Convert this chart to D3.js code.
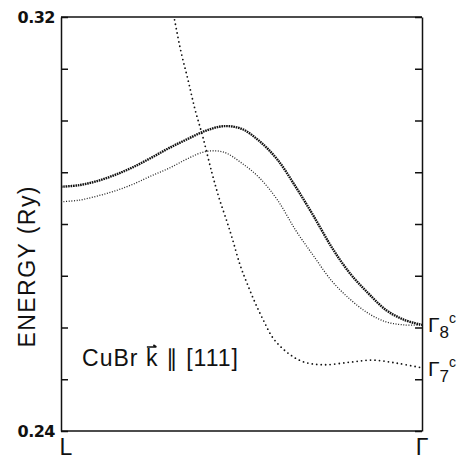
<!DOCTYPE html>
<html>
<head>
<meta charset="utf-8">
<script src="https://cdn.jsdelivr.net/npm/d3@7"></script>
<style>
  body { margin: 0; background: #fff; }
  svg { display: block; }
  text { fill: #111; font-family: "Liberation Sans", Arial, sans-serif; }
</style>
</head>
<body>
<div id="chart"></div>
<script>
// wave-vector grid from L (0) to Gamma (1) for the two upper bands
const kGrid = [0, 0.05, 0.1, 0.15, 0.2, 0.25, 0.3, 0.35, 0.4, 0.45, 0.5,
               0.55, 0.6, 0.65, 0.7, 0.75, 0.8, 0.85, 0.9, 0.95, 1.0];
// Gamma8 band, heavy dots
const bandHeavy = [0.2872, 0.2875, 0.2883, 0.2895, 0.2910, 0.2928, 0.2947, 0.2964, 0.2980, 0.2989, 0.2984,
                   0.2960, 0.2924, 0.2872, 0.2815, 0.2755, 0.2705, 0.2667, 0.2634, 0.2615, 0.2605];
// Gamma8 band, light dots
const bandLight = [0.2843, 0.2846, 0.2854, 0.2864, 0.2877, 0.2893, 0.2908, 0.2926, 0.2940, 0.2939, 0.2918,
                   0.2889, 0.2846, 0.2788, 0.2738, 0.2690, 0.2655, 0.2628, 0.2611, 0.2605, 0.2605];
// Gamma7 band, sparse dots (starts above the frame)
const kSteep = [0.29, 0.313, 0.332, 0.352, 0.371, 0.393, 0.418, 0.438, 0.460, 0.474, 0.496,
                0.515, 0.537, 0.560, 0.587, 0.626, 0.670, 0.726, 0.801, 0.864, 0.931, 1.0];
const eSteep = [0.3280, 0.3200, 0.3134, 0.3078, 0.3022, 0.2968, 0.2899, 0.2850, 0.2804, 0.2773, 0.2721,
                0.2686, 0.2649, 0.2615, 0.2580, 0.2552, 0.2534, 0.2528, 0.2533, 0.2537, 0.2531, 0.2522];
const yTicks = [0.24, 0.25, 0.26, 0.27, 0.28, 0.29, 0.30, 0.31, 0.32];
const xLabels = ["L", "\u0393"];

const W = 458, H = 459;
const margin = { top: 17, right: 36, bottom: 28, left: 61 };
const width = W - margin.left - margin.right,
      height = H - margin.top - margin.bottom;

const svg = d3.select("#chart").append("svg")
    .attr("width", W)
    .attr("height", H);

const g = svg.append("g")
    .attr("transform", `translate(${margin.left},${margin.top})`);

const x = d3.scaleLinear().domain([0, 1]).range([0, width]);
const y = d3.scaleLinear().domain([0.24, 0.32]).range([height, 0]);

// clip so the steep band is cut at the top frame
g.append("clipPath").attr("id", "plot-clip")
    .append("rect").attr("width", width).attr("height", height);

// left axis, ticks inward, only end labels
const yAxisL = g.append("g")
    .call(d3.axisLeft(y).tickValues(yTicks).tickSizeInner(-7).tickSizeOuter(0).tickPadding(6)
        .tickFormat(d => (d === 0.24 || d === 0.32) ? d.toFixed(2) : ""));
yAxisL.selectAll("text")
    .style("font-family", "'DejaVu Sans', sans-serif")
    .style("font-size", "16px")
    .style("font-weight", "bold")
    .style("letter-spacing", "-0.5px")
    .attr("fill", "#111");

// right axis, ticks inward, no labels
g.append("g")
    .attr("transform", `translate(${width},0)`)
    .call(d3.axisRight(y).tickValues(yTicks).tickSizeInner(-7).tickSizeOuter(0).tickFormat(""));

g.selectAll(".domain, .tick line").attr("stroke", "#111").attr("stroke-width", 1.5);

// top and bottom edges
g.append("line").attr("x1", x(0)).attr("x2", x(1)).attr("y1", y(0.32)).attr("y2", y(0.32))
    .attr("stroke", "#111").attr("stroke-width", 1.5);
g.append("line").attr("x1", x(0)).attr("x2", x(1)).attr("y1", y(0.24)).attr("y2", y(0.24))
    .attr("stroke", "#111").attr("stroke-width", 1.5);

// x labels L and Gamma
g.selectAll(".xlab")
    .data(xLabels)
    .enter()
    .append("text")
    .attr("class", "xlab")
    .attr("x", (d, i) => x(i) + (i === 0 ? 5 : 0))
    .attr("y", height + 24)
    .attr("text-anchor", "middle")
    .style("font-size", "23px")
    .text(d => d);

// y axis title
g.append("text")
    .attr("transform", "rotate(-90)")
    .attr("x", -250)
    .attr("y", -26)
    .attr("text-anchor", "middle")
    .attr("textLength", 161)
    .attr("lengthAdjust", "spacing")
    .style("font-size", "23px")
    .text("ENERGY (Ry)");

const line = d3.line()
    .x(d => x(d[0]))
    .y(d => y(d[1]))
    .curve(d3.curveCatmullRom.alpha(0.5));

const curves = g.append("g").attr("clip-path", "url(#plot-clip)");

curves.append("path")
    .datum(kGrid.map((k, i) => [k, bandLight[i]]))
    .attr("fill", "none")
    .attr("stroke", "#222")
    .attr("stroke-width", 1.3)
    .attr("stroke-dasharray", "1 1.6")
    .attr("d", line);

curves.append("path")
    .datum(kGrid.map((k, i) => [k, bandHeavy[i]]))
    .attr("fill", "none")
    .attr("stroke", "#111")
    .attr("stroke-width", 2.4)
    .attr("stroke-dasharray", "1.6 0.8")
    .attr("d", line);

curves.append("path")
    .datum(kSteep.map((k, i) => [k, eSteep[i]]))
    .attr("fill", "none")
    .attr("stroke", "#111")
    .attr("stroke-width", 1.8)
    .attr("stroke-linecap", "round")
    .attr("stroke-dasharray", "0 4.5")
    .attr("d", line);

// in-plot caption
const cap = g.append("text")
    .attr("x", 21)
    .attr("y", 349)
    .attr("textLength", 156)
    .attr("lengthAdjust", "spacing")
    .style("font-size", "23px");
cap.append("tspan").text("CuBr ");
cap.append("tspan").text("k");
cap.append("tspan").text(" \u2225 [111]");

// arrow over k
const kIdx = 5;
const kBox = cap.node().getExtentOfChar(kIdx);
const ax0 = kBox.x + 1, ax1 = kBox.x + kBox.width - 1, ay = kBox.y + 2;
g.append("path")
    .attr("d", `M${ax0},${ay}H${ax1}M${ax1 - 3},${ay - 2}L${ax1},${ay}`)
    .attr("fill", "none")
    .attr("stroke", "#111")
    .attr("stroke-width", 1.6);

// band labels at Gamma
function gammaLabel(sub, base) {
  const t = g.append("text")
      .attr("x", width + 6)
      .attr("y", base);
  t.append("tspan").style("font-size", "21px").text("\u0393");
  t.append("tspan").style("font-size", "17px").attr("dy", 6).text(sub);
  t.append("tspan").style("font-size", "14px").attr("dy", -15).text("c");
}
gammaLabel("8", y(0.2605) + 7);
gammaLabel("7", y(0.2522) + 8);
</script>
</body>
</html>
